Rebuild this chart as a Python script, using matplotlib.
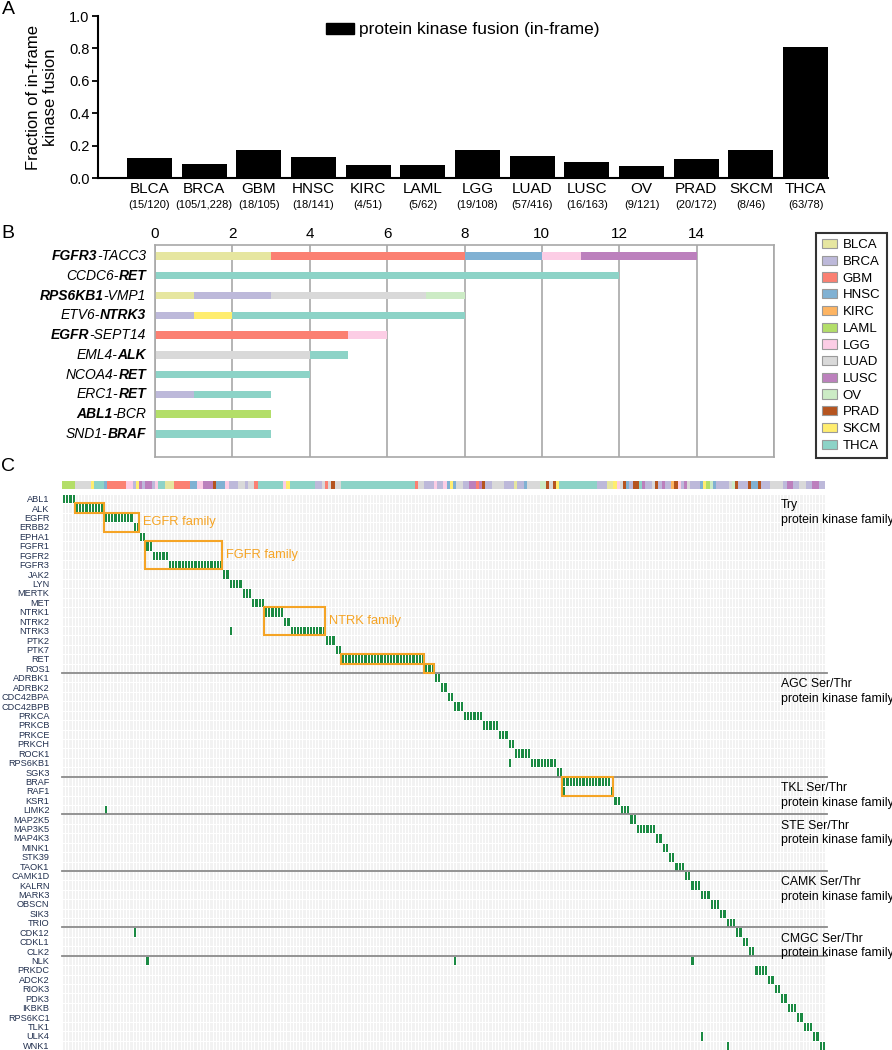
import matplotlib
matplotlib.use('Agg')
import matplotlib.pyplot as plt
import matplotlib.transforms as mtransforms
from matplotlib.patches import Patch, Rectangle
from matplotlib.colors import ListedColormap
import numpy as np

plt.rcParams['font.family'] = ['Liberation Sans', 'DejaVu Sans']

W, H = 892, 1050

# ---- panel A data
cancers = ['BLCA', 'BRCA', 'GBM', 'HNSC', 'KIRC', 'LAML', 'LGG', 'LUAD',
           'LUSC', 'OV', 'PRAD', 'SKCM', 'THCA']
fusion_n = [15, 105, 18, 18, 4, 5, 19, 57, 16, 9, 20, 8, 63]
sample_n = [120, 1228, 105, 141, 51, 62, 108, 416, 163, 121, 172, 46, 78]
cancer_colors = ['#e6e6a0', '#bdb9da', '#fb8072', '#80b1d3', '#fdb462', '#b3de69',
                 '#fccde5', '#d9d9d9', '#bc80bd', '#ccebc5', '#b5541f', '#ffed6f', '#8dd3c7']

# ---- panel B data
fusion_left = ['FGFR3', 'CCDC6-', 'RPS6KB1', 'ETV6-', 'EGFR', 'EML4-', 'NCOA4-', 'ERC1-', 'ABL1', 'SND1-']
fusion_right = ['-TACC3', 'RET', '-VMP1', 'NTRK3', '-SEPT14', 'ALK', 'RET', 'RET', '-BCR', 'BRAF']
left_bold = [True, False, True, False, True, False, False, False, True, False]
fusion_counts = {
    'BLCA': [3, 0, 1, 0, 0, 0, 0, 0, 0, 0],
    'BRCA': [0, 0, 2, 1, 0, 0, 0, 1, 0, 0],
    'GBM':  [5, 0, 0, 0, 5, 0, 0, 0, 0, 0],
    'HNSC': [2, 0, 0, 0, 0, 0, 0, 0, 0, 0],
    'KIRC': [0, 0, 0, 0, 0, 0, 0, 0, 0, 0],
    'LAML': [0, 0, 0, 0, 0, 0, 0, 0, 3, 0],
    'LGG':  [1, 0, 0, 0, 1, 0, 0, 0, 0, 0],
    'LUAD': [0, 0, 4, 0, 0, 4, 0, 0, 0, 0],
    'LUSC': [3, 0, 0, 0, 0, 0, 0, 0, 0, 0],
    'OV':   [0, 0, 1, 0, 0, 0, 0, 0, 0, 0],
    'PRAD': [0, 0, 0, 0, 0, 0, 0, 0, 0, 0],
    'SKCM': [0, 0, 0, 1, 0, 0, 0, 0, 0, 0],
    'THCA': [0, 12, 0, 6, 0, 1, 4, 2, 0, 3],
}

# ---- panel C data
genes = ['ABL1', 'ALK', 'EGFR', 'ERBB2', 'EPHA1', 'FGFR1', 'FGFR2', 'FGFR3', 'JAK2', 'LYN',
         'MERTK', 'MET', 'NTRK1', 'NTRK2', 'NTRK3', 'PTK2', 'PTK7', 'RET', 'ROS1',
         'ADRBK1', 'ADRBK2', 'CDC42BPA', 'CDC42BPB', 'PRKCA', 'PRKCB', 'PRKCE', 'PRKCH',
         'ROCK1', 'RPS6KB1', 'SGK3',
         'BRAF', 'RAF1', 'KSR1', 'LIMK2',
         'MAP2K5', 'MAP3K5', 'MAP4K3', 'MINK1', 'STK39', 'TAOK1',
         'CAMK1D', 'KALRN', 'MARK3', 'OBSCN', 'SIK3', 'TRIO',
         'CDK12', 'CDKL1', 'CLK2',
         'NLK', 'PRKDC', 'ADCK2', 'RIOK3', 'PDK3', 'IKBKB', 'RPS6KC1', 'TLK1', 'ULK4', 'WNK1']
gene_n = [4, 9, 9, 2, 2, 2, 5, 17, 2, 4, 3, 4, 6, 2, 11, 3, 2, 26, 3,
          2, 2, 2, 3, 6, 5, 3, 2, 5, 8, 2,
          15, 1, 2, 3,
          2, 6, 2, 2, 2, 3,
          2, 3, 3, 3, 2, 3,
          2, 2, 2,
          0, 4, 2, 2, 2, 3, 2, 3, 2, 2]
family_names = ['Try', 'AGC Ser/Thr', 'TKL Ser/Thr', 'STE Ser/Thr', 'CAMK Ser/Thr', 'CMGC Ser/Thr', '']
family_sizes = [19, 11, 4, 6, 6, 3, 10]
# second fusion of a sample: (gene, gene whose first sample it shares)
extra_hits = [('NTRK3', 'LYN'), ('LIMK2', 'EGFR'), ('CDK12', 'ERBB2'), ('NLK', 'FGFR1'),
              ('NLK', 'CDC42BPB'), ('NLK', 'KALRN'), ('RPS6KB1', 'PRKCH'), ('RAF1', 'BRAF'),
              ('ULK4', 'MARK3'), ('WNK1', 'TRIO')]
boxes = [('ALK', 'ALK', ''), ('EGFR', 'ERBB2', 'EGFR family'), ('FGFR1', 'FGFR3', 'FGFR family'),
         ('NTRK1', 'NTRK3', 'NTRK family'), ('RET', 'RET', ''), ('ROS1', 'ROS1', ''),
         ('BRAF', 'RAF1', '')]
strip_runs = [('LAML', 4), ('LUAD', 5), ('SKCM', 1), ('THCA', 3), ('HNSC', 1), ('GBM', 6), ('LGG', 2),
              ('BRCA', 1), ('SKCM', 1), ('LUSC', 1), ('BRCA', 1), ('LUSC', 2), ('BRCA', 1), ('LGG', 1),
              ('THCA', 2), ('BLCA', 3), ('GBM', 5), ('HNSC', 2), ('LGG', 2), ('LUSC', 3), ('PRAD', 1),
              ('HNSC', 3), ('LGG', 1), ('BRCA', 3), ('LUAD', 2), ('BRCA', 1), ('LUAD', 2), ('GBM', 1),
              ('THCA', 8), ('LGG', 1), ('SKCM', 1), ('THCA', 8), ('BRCA', 2), ('LUAD', 1), ('GBM', 1),
              ('LUAD', 1), ('PRAD', 1), ('LUAD', 2), ('THCA', 23), ('GBM', 1), ('LUAD', 2), ('BRCA', 3),
              ('LGG', 1), ('BRCA', 2), ('LGG', 1), ('HNSC', 1), ('SKCM', 1), ('HNSC', 1), ('LUAD', 2),
              ('BRCA', 2), ('LUSC', 2), ('GBM', 1), ('LUSC', 1), ('PRAD', 1), ('BRCA', 2), ('LUAD', 4),
              ('BRCA', 3), ('BLCA', 1), ('BRCA', 2), ('HNSC', 1), ('LUAD', 4), ('OV', 2), ('PRAD', 1),
              ('LUAD', 1), ('PRAD', 1), ('SKCM', 1), ('THCA', 12), ('BRCA', 3), ('BLCA', 2), ('SKCM', 1),
              ('LGG', 1), ('LUAD', 1), ('PRAD', 1), ('HNSC', 1), ('BRCA', 1), ('PRAD', 2), ('THCA', 1),
              ('LUSC', 1), ('BRCA', 2), ('LUAD', 1), ('PRAD', 1), ('BRCA', 1), ('LUSC', 1), ('BRCA', 2),
              ('KIRC', 1), ('PRAD', 1), ('LGG', 1), ('BRCA', 1), ('LUSC', 1), ('LUAD', 1), ('BRCA', 3),
              ('HNSC', 1), ('SKCM', 1), ('LAML', 1), ('OV', 1), ('HNSC', 1), ('BRCA', 4), ('LUAD', 1),
              ('OV', 1), ('PRAD', 1), ('BRCA', 3), ('PRAD', 1), ('HNSC', 2), ('PRAD', 1), ('BRCA', 3),
              ('LUAD', 4), ('BRCA', 1), ('LUSC', 2), ('BRCA', 2), ('LUAD', 2), ('BRCA', 2), ('LUSC', 2),
              ('BRCA', 2)]

ORANGE = '#f5a425'
GREEN = '#1b8a43'

fig = plt.figure(figsize=(W / 100, H / 100), dpi=100)

def frame(x0, y0, x1, y1):
    return [x0 / W, 1 - y1 / H, (x1 - x0) / W, (y1 - y0) / H]

# ================= A
axA = fig.add_axes(frame(98, 16, 828, 178))
frac = np.array(fusion_n) / np.array(sample_n)
xa = np.arange(len(cancers))
axA.bar(xa, frac, width=0.82, color='black')
axA.set_xlim(-0.94, 12.41)
axA.set_ylim(0, 1)
axA.set_yticks(np.arange(0, 1.01, 0.2))
axA.set_yticklabels(['%.1f' % v for v in np.arange(0, 1.01, 0.2)])
axA.set_xticks(xa)
axA.set_xticklabels(cancers)
for s in ['top', 'right']:
    axA.spines[s].set_visible(False)
for s in ['left', 'bottom']:
    axA.spines[s].set_linewidth(1.5)
axA.tick_params(axis='x', length=0, pad=3, labelsize=11)
axA.tick_params(axis='y', length=4, width=1.3, labelsize=10.5, pad=2)
axA.set_ylabel('Fraction of in-frame\nkinase fusion', fontsize=12, labelpad=8)
tr = mtransforms.blended_transform_factory(axA.transData, axA.transAxes)
for i, (a, b) in enumerate(zip(fusion_n, sample_n)):
    axA.text(i, -0.167, '(%d/%s)' % (a, format(b, ',')), transform=tr,
             ha='center', va='center', fontsize=8)
axA.legend(handles=[Patch(color='black')], labels=['protein kinase fusion (in-frame)'],
           loc='center', bbox_to_anchor=(0.5, 0.914), frameon=False, fontsize=12.5,
           handlelength=1.6, handleheight=0.6, handletextpad=0.3)

# ================= B
axB = fig.add_axes(frame(155, 245, 774, 457))
yb = np.arange(len(fusion_left))
left = np.zeros(len(yb))
for c, col in zip(cancers, cancer_colors):
    v = np.array(fusion_counts[c])
    axB.barh(yb, v, left=left, height=0.37, color=col)
    left += v
axB.set_xlim(0, 16)
axB.set_ylim(len(yb) - 1 + 1.17, -0.56)
for v in range(0, 17, 2):
    axB.axvline(v, color='#a8a8a8', lw=1.2, zorder=0)
for s in axB.spines.values():
    s.set_color('#a8a8a8')
    s.set_linewidth(1.2)
axB.xaxis.tick_top()
axB.set_xticks(range(0, 15, 2))
axB.tick_params(axis='x', length=0, pad=3, labelsize=11)
axB.set_yticks([])
trB = mtransforms.blended_transform_factory(axB.transAxes, axB.transData)
for i in yb:
    rt = axB.text(-0.0145, i, fusion_right[i], transform=trB, ha='right', va='center',
                  fontsize=10, style='italic',
                  weight='normal' if left_bold[i] else 'bold')
    axB.annotate(fusion_left[i], xy=(0, 0), xycoords=rt, ha='right', va='bottom',
                 fontsize=10, style='italic',
                 weight='bold' if left_bold[i] else 'normal')
legB = fig.legend(handles=[Patch(facecolor=col, edgecolor='#9a9a9a', lw=0.8) for col in cancer_colors],
                  labels=cancers, loc='upper left', bbox_to_anchor=(816 / W, 1 - 233 / H),
                  frameon=True, fancybox=False, edgecolor='black', fontsize=9.5,
                  handlelength=1.15, handleheight=0.7, labelspacing=0.34, borderpad=0.45,
                  handletextpad=0.4, borderaxespad=0)
legB.get_frame().set_linewidth(1.5)

# ================= C
ncol = int(np.sum(gene_n))
nrow = len(genes)
starts = np.concatenate([[0], np.cumsum(gene_n)[:-1]])
gidx = {g: i for i, g in enumerate(genes)}
mat = np.zeros((nrow, ncol))
for i, (s, n) in enumerate(zip(starts, gene_n)):
    mat[i, s:s + n] = 1
for g, host in extra_hits:
    mat[gidx[g], starts[gidx[host]]] = 1

axC = fig.add_axes(frame(62, 494, 825, 1050))
axC.pcolormesh(np.arange(ncol + 1), np.arange(nrow + 1), mat,
               cmap=ListedColormap(['#f2f2f2', GREEN]), vmin=0, vmax=1,
               edgecolors='white', linewidth=0.45)
axC.set_xlim(0, ncol)
axC.set_ylim(nrow, 0)
for s in axC.spines.values():
    s.set_visible(False)
axC.set_xticks([])
axC.set_yticks(np.arange(nrow) + 0.5)
axC.set_yticklabels(genes, fontsize=6.6, color='#22304f')
axC.tick_params(axis='y', length=0, pad=9)

row0 = 0
trC = mtransforms.blended_transform_factory(axC.transAxes, axC.transData)
for name, size in zip(family_names, family_sizes):
    if row0 > 0:
        axC.plot([0, ncol + 0.6], [row0, row0], color='#8a8a8a', lw=1.3, clip_on=False, zorder=3)
    if name:
        axC.text(0.942, row0 + 0.55, name + '\nprotein kinase family', transform=trC,
                 ha='left', va='top', fontsize=8.8, linespacing=1.3, zorder=4)
    row0 += size

for g0, g1, lab in boxes:
    r0, r1 = gidx[g0], gidx[g1]
    c0, c1 = starts[r0], starts[r1] + gene_n[r1]
    axC.add_patch(Rectangle((c0, r0), c1 - c0, r1 - r0 + 1, fill=False,
                            edgecolor=ORANGE, lw=1.5, zorder=5))
    if lab:
        axC.text(c1 + 1.2, (r0 + r1 + 1) / 2, lab, ha='left', va='center',
                 fontsize=9.3, color=ORANGE)

# sample cancer type strip
strip = []
for c, n in strip_runs:
    strip += [cancers.index(c)] * n
axS = fig.add_axes(frame(62, 481, 825, 489))
axS.pcolormesh(np.arange(len(strip) + 1), [0, 1], np.array([strip]),
               cmap=ListedColormap(cancer_colors), vmin=-0.5, vmax=12.5)
axS.set_xlim(0, ncol)
axS.axis('off')

# panel letters
for lab, y in [('A', 10), ('B', 234), ('C', 467)]:
    fig.text(8 / W, 1 - y / H, lab, fontsize=14, ha='center', va='center')

plt.savefig('out.png', dpi=100)
plt.close()
